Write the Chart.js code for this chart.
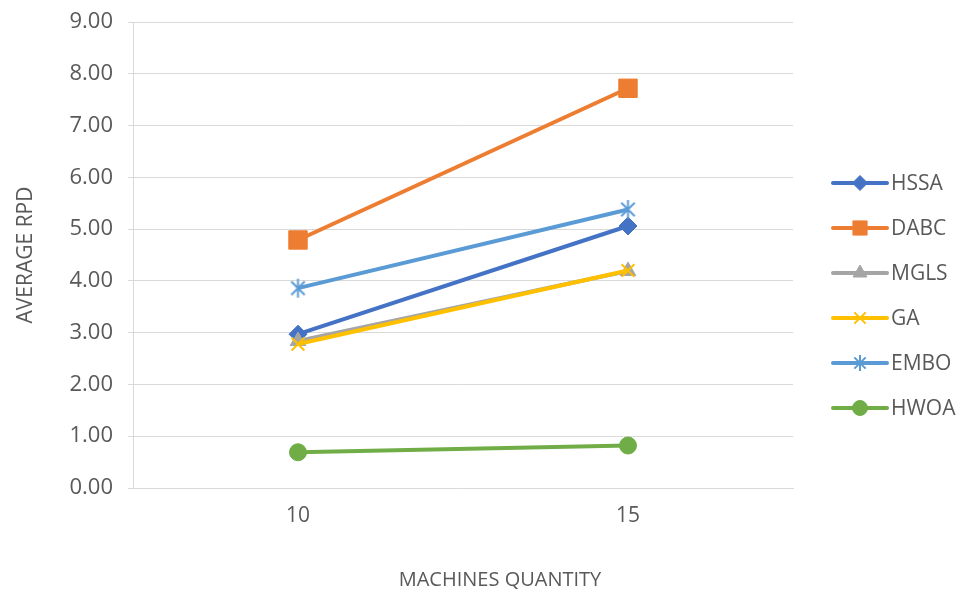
<!DOCTYPE html>
<html>
<head>
<meta charset="utf-8">
<script src="https://cdn.jsdelivr.net/npm/chart.js@4/dist/chart.umd.min.js"></script>
<style>
  html, body { margin: 0; padding: 0; background: #ffffff; }
  #wrap { width: 959px; height: 589px; }
</style>
</head>
<body>
<div id="wrap"><canvas id="c" width="959" height="589"></canvas></div>
<script>
// Machines quantity categories and average RPD per algorithm
const categories = ['10', '15'];
const hssa = [2.97, 5.06];
const dabc = [4.79, 7.72];
const mgls = [2.84, 4.19];
const ga   = [2.78, 4.20];
const embo = [3.86, 5.38];
const hwoa = [0.69, 0.82];
const yTicks = { min: 0, max: 9, step: 1 };

const FONT = "'Open Sans', 'Liberation Sans', sans-serif";
const TEXT = '#595959';
const GRID = '#d9d9d9';

// six-armed asterisk marker
function asterisk(color, size, lw) {
  const c = document.createElement('canvas');
  c.width = size; c.height = size;
  const g = c.getContext('2d');
  g.strokeStyle = color; g.lineWidth = lw; g.lineCap = 'butt';
  const m = size / 2, r = size / 2 - 1;
  g.beginPath();
  g.moveTo(m, m - r); g.lineTo(m, m + r);
  const d = r * Math.SQRT1_2;
  g.moveTo(m - d, m - d); g.lineTo(m + d, m + d);
  g.moveTo(m + d, m - d); g.lineTo(m - d, m + d);
  g.stroke();
  return c;
}

const series = [
  { label: 'HSSA', data: hssa, color: '#4472C4', style: 'rectRot', r: 9, lr: 7.5, bw: 1 },
  { label: 'DABC', data: dabc, color: '#ED7D31', style: 'rect', r: 13, lr: 10, bw: 1 },
  { label: 'MGLS', data: mgls, color: '#A5A5A5', style: 'triangle', r: 9, lr: 8, bw: 1 },
  { label: 'GA',   data: ga,   color: '#FFC000', style: 'crossRot', r: 9, lr: 8, bw: 2 },
  { label: 'EMBO', data: embo, color: '#5B9BD5', style: asterisk('#5B9BD5', 21, 2), lstyle: asterisk('#5B9BD5', 18, 2), r: 9, lr: 8, bw: 2 },
  { label: 'HWOA', data: hwoa, color: '#70AD47', style: 'circle', r: 8.5, lr: 7.5, bw: 1 }
];

const datasets = series.map((s, i) => ({
  label: s.label,
  data: s.data,
  borderColor: s.color,
  backgroundColor: s.color,
  borderWidth: 4,
  pointStyle: s.style,
  pointRadius: s.r,
  pointHoverRadius: s.r,
  pointBorderWidth: s.bw,
  pointBackgroundColor: s.color,
  pointBorderColor: s.color,
  tension: 0,
  order: series.length - i
}));

// legend on the right: line sample with its marker, then the name
const sideLegend = {
  id: 'sideLegend',
  afterDraw(chart) {
    const ctx = chart.ctx;
    const x0 = 833, x1 = 887, tx = 891, y0 = 183, gap = 45;
    ctx.save();
    series.forEach((s, i) => {
      const y = y0 + i * gap;
      ctx.strokeStyle = s.color;
      ctx.lineWidth = 4;
      ctx.lineCap = 'round';
      ctx.beginPath(); ctx.moveTo(x0, y); ctx.lineTo(x1, y); ctx.stroke();
      ctx.lineCap = 'butt';
      ctx.fillStyle = s.color;
      ctx.strokeStyle = s.color;
      ctx.lineWidth = s.bw;
      Chart.helpers.drawPoint(ctx, {
        pointStyle: s.lstyle || s.style, radius: s.lr, rotation: 0, borderWidth: s.bw
      }, (x0 + x1) / 2, y);
      ctx.fillStyle = TEXT;
      ctx.font = '21px ' + FONT;
      ctx.textAlign = 'left';
      ctx.textBaseline = 'middle';
      ctx.fillText(s.label, tx, y + 1);
    });
    // horizontal axis title
    ctx.fillStyle = TEXT;
    ctx.font = '20px ' + FONT;
    ctx.textAlign = 'center';
    ctx.textBaseline = 'middle';
    ctx.fillText('MACHINES QUANTITY', 500, 580);
    ctx.restore();
  }
};

new Chart(document.getElementById('c'), {
  type: 'line',
  data: { labels: categories, datasets },
  options: {
    responsive: false,
    animation: false,
    devicePixelRatio: 1,
    layout: { padding: { top: 22, right: 166, bottom: 0, left: 0 } },
    plugins: { legend: { display: false }, tooltip: { enabled: false } },
    scales: {
      x: {
        offset: true,
        grid: { display: false, drawTicks: false },
        border: { display: true, color: GRID, width: 1 },
        ticks: { color: TEXT, font: { family: FONT, size: 21 }, padding: 15 },
        afterFit(scale) { scale.height = 101; scale.paddingLeft = 0; scale.paddingRight = 0; }
      },
      y: {
        min: yTicks.min, max: yTicks.max,
        grid: { color: GRID, lineWidth: 1, tickLength: 5, drawTicks: true },
        border: { display: true, color: GRID, width: 1 },
        ticks: {
          stepSize: yTicks.step, color: TEXT, padding: 15,
          font: { family: FONT, size: 22 },
          callback: v => Number(v).toFixed(2)
        },
        title: {
          display: true, text: 'AVERAGE RPD', color: TEXT,
          font: { family: FONT, size: 21 }, padding: { top: 13, bottom: 0 }
        },
        afterFit(scale) { scale.width = 133; scale.paddingTop = 0; scale.paddingBottom = 0; }
      }
    }
  },
  plugins: [sideLegend]
});
</script>
</body>
</html>
